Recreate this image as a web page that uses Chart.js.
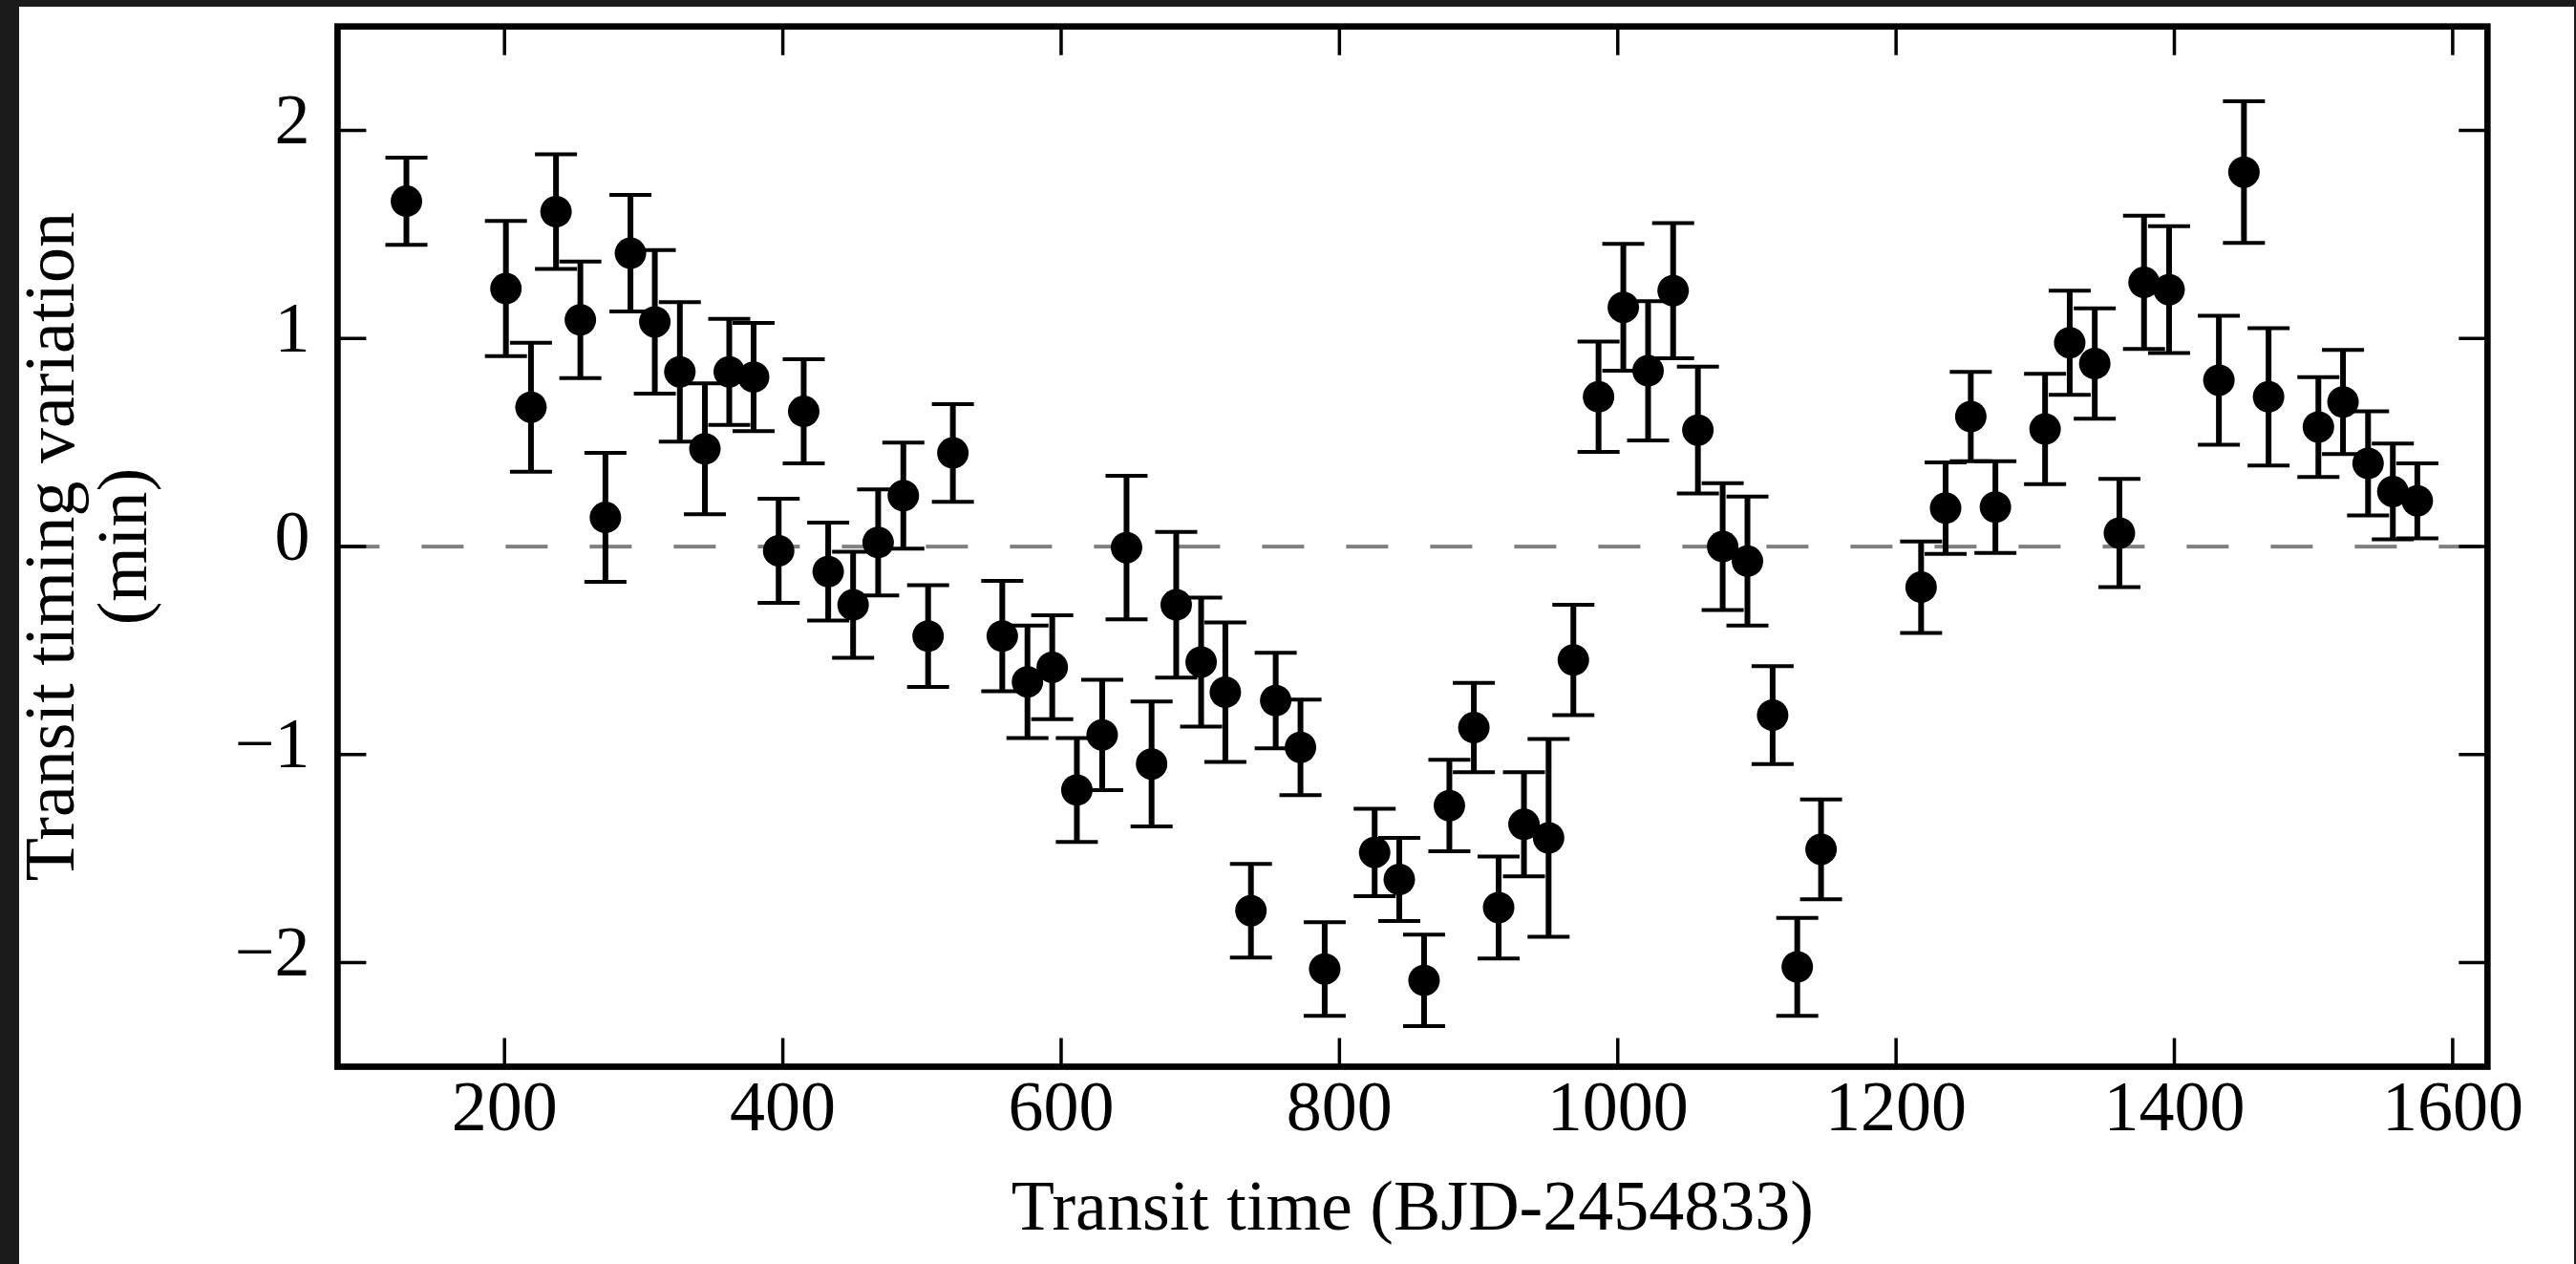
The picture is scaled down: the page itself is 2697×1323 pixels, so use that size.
<!DOCTYPE html>
<html>
<head>
<meta charset="utf-8">
<title>Transit timing variation</title>
<script src="https://cdn.jsdelivr.net/npm/chart.js@4.4.1/dist/chart.umd.min.js"></script>
<style>
  html, body { margin: 0; padding: 0; background: #1b1b1b; width: 2697px; height: 1323px; overflow: hidden; }
  #ttvChart { position: absolute; left: 20px; top: 7px; background: #ffffff; }
</style>
</head>
<body>
<canvas id="ttvChart" width="2675" height="1316"></canvas>
<script>
// Mid-transit times (BJD-2454833) and timing residuals in minutes
const transitTime = [
  129.5, 201, 219, 237, 254.5, 272.5, 290.5, 308, 326, 344,
  361.5, 379, 397, 415, 432.6, 450.5, 468.5, 486.6, 504.4, 522.2,
  557.7, 575.8, 593.6, 611.3, 629.5, 647, 665, 682.7, 700.6, 718,
  736.4, 754.2, 772, 789.4, 825.3, 843, 860.8, 879, 896.6, 914.4,
  932.6, 950.3, 968.1, 986.2, 1004, 1021.8, 1039.8, 1057.6, 1075.4, 1093.2,
  1111.3, 1129, 1146.1, 1218, 1235.6, 1253.7, 1271.4, 1307.1, 1324.8, 1342.8,
  1360.5, 1378.2, 1396.2, 1432, 1450, 1467.7, 1503.5, 1521.2, 1539.2, 1557,
  1574.6
];
const ttv = [
  1.66, 1.24, 0.67, 1.61, 1.09, 0.14, 1.41, 1.08, 0.84, 0.47,
  0.84, 0.815, -0.02, 0.65, -0.12, -0.28, 0.02, 0.245, -0.43, 0.45,
  -0.43, -0.65, -0.58, -1.17, -0.905, -0.005, -1.045, -0.28, -0.555, -0.70,
  -1.75, -0.74, -0.965, -2.03, -1.47, -1.60, -2.085, -1.245, -0.87, -1.735,
  -1.335, -1.40, -0.545, 0.72, 1.15, 0.845, 1.23, 0.56, 0.0, -0.07,
  -0.81, -2.02, -1.455, -0.195, 0.185, 0.625, 0.19, 0.565, 0.98, 0.88,
  0.065, 1.27, 1.235, 0.80, 1.80, 0.72, 0.575, 0.695, 0.40, 0.265,
  0.22
];
const ttvErr = [
  0.21, 0.325, 0.31, 0.275, 0.28, 0.31, 0.28, 0.345, 0.335, 0.315,
  0.255, 0.26, 0.25, 0.25, 0.235, 0.255, 0.255, 0.255, 0.245, 0.235,
  0.265, 0.27, 0.25, 0.25, 0.265, 0.345, 0.30, 0.35, 0.31, 0.335,
  0.225, 0.23, 0.23, 0.225, 0.21, 0.20, 0.22, 0.22, 0.215, 0.245,
  0.25, 0.475, 0.265, 0.265, 0.305, 0.335, 0.325, 0.305, 0.305, 0.31,
  0.235, 0.235, 0.24, 0.22, 0.22, 0.215, 0.22, 0.265, 0.25, 0.265,
  0.26, 0.32, 0.305, 0.31, 0.34, 0.33, 0.24, 0.25, 0.25, 0.23,
  0.18
];

const xTicks = [200, 400, 600, 800, 1000, 1200, 1400, 1600];
const xTickLabels = ['200', '400', '600', '800', '1000', '1200', '1400', '1600'];
const yTicks = [-2, -1, 0, 1, 2];
const yTickLabels = ['\u22122', '\u22121', '0', '1', '2'];

const xTitle = 'Transit time (BJD-2454833)';
const yTitle = ['Transit timing variation', '(min)'];

const SERIF = "'Liberation Serif', 'DejaVu Serif', serif";

// dashed zero line + error bars under the points, frame and inward ticks on top
const errorBarPlugin = {
  id: 'errorBars',
  beforeDatasetsDraw(chart) {
    const { ctx, chartArea: a, scales: { x, y } } = chart;
    ctx.save();
    ctx.beginPath();
    ctx.rect(a.left, a.top, a.width, a.height);
    ctx.clip();

    const y0 = y.getPixelForValue(0);
    ctx.strokeStyle = '#808080';
    ctx.lineWidth = 4;
    ctx.setLineDash([44, 44]);
    ctx.beginPath();
    ctx.moveTo(a.left, y0);
    ctx.lineTo(a.right, y0);
    ctx.stroke();
    ctx.setLineDash([]);

    ctx.strokeStyle = '#000';
    ctx.lineCap = 'butt';
    transitTime.forEach((t, i) => {
      const px = x.getPixelForValue(t);
      const hi = y.getPixelForValue(ttv[i] + ttvErr[i]);
      const lo = y.getPixelForValue(ttv[i] - ttvErr[i]);
      ctx.lineWidth = 6;
      ctx.beginPath();
      ctx.moveTo(px, hi);
      ctx.lineTo(px, lo);
      ctx.stroke();
      ctx.lineWidth = 4;
      ctx.beginPath();
      ctx.moveTo(px - 22, hi); ctx.lineTo(px + 22, hi);
      ctx.moveTo(px - 22, lo); ctx.lineTo(px + 22, lo);
      ctx.stroke();
    });
    ctx.restore();
  },
  afterDatasetsDraw(chart) {
    const { ctx, chartArea: a, scales: { x, y } } = chart;
    ctx.save();
    ctx.strokeStyle = '#000';
    ctx.lineWidth = 3.5;
    ctx.beginPath();
    xTicks.forEach(v => {
      const px = x.getPixelForValue(v);
      ctx.moveTo(px, a.bottom); ctx.lineTo(px, a.bottom - 30);
      ctx.moveTo(px, a.top); ctx.lineTo(px, a.top + 30);
    });
    yTicks.forEach(v => {
      const py = y.getPixelForValue(v);
      ctx.moveTo(a.left, py); ctx.lineTo(a.left + 30, py);
      ctx.moveTo(a.right, py); ctx.lineTo(a.right - 30, py);
    });
    ctx.stroke();

    ctx.lineWidth = 6.7;
    ctx.lineJoin = 'miter';
    ctx.strokeRect(a.left, a.top, a.width, a.height);
    ctx.restore();
  }
};

const ctx = document.getElementById('ttvChart').getContext('2d');
new Chart(ctx, {
  type: 'scatter',
  data: {
    datasets: [{
      data: transitTime.map((t, i) => ({ x: t, y: ttv[i] })),
      backgroundColor: '#000',
      borderWidth: 0,
      pointRadius: 16.5,
      pointHoverRadius: 16.5,
      pointStyle: 'circle'
    }]
  },
  options: {
    responsive: false,
    animation: false,
    devicePixelRatio: 1,
    layout: { padding: { left: 0, top: 20.7, right: 90.7, bottom: 0 } },
    plugins: { legend: { display: false }, tooltip: { enabled: false } },
    scales: {
      x: {
        type: 'linear',
        min: 80,
        max: 1625,
        grid: { display: false, drawTicks: false },
        border: { display: false },
        afterBuildTicks: axis => { axis.ticks = xTicks.map(v => ({ value: v })); },
        afterFit: axis => { axis.height = 206.5; },
        ticks: {
          color: '#000',
          font: { family: SERIF, size: 74, lineHeight: 1.2 },
          padding: 3,
          maxRotation: 0,
          autoSkip: false,
          callback: (value, index) => xTickLabels[index]
        },
        title: {
          display: true,
          text: xTitle,
          color: '#000',
          font: { family: SERIF, size: 74, lineHeight: 1.2 },
          padding: { top: 0, bottom: 11 }
        }
      },
      y: {
        type: 'linear',
        min: -2.5,
        max: 2.5,
        grid: { display: false, drawTicks: false },
        border: { display: false },
        afterBuildTicks: axis => { axis.ticks = yTicks.map(v => ({ value: v })); },
        afterFit: axis => {
          axis.width = 333.4;
          // the end labels sit well inside the plot, no extra room needed
          axis.paddingTop = 0;
          axis.paddingBottom = 0;
        },
        ticks: {
          color: '#000',
          font: { family: SERIF, size: 74, lineHeight: 1.2 },
          padding: 29,
          labelOffset: -6,
          autoSkip: false,
          callback: (value, index) => yTickLabels[index]
        },
        title: {
          display: true,
          text: yTitle,
          color: '#000',
          font: { family: SERIF, size: 74, lineHeight: 1.02 },
          padding: { top: 0, bottom: 0 }
        }
      }
    }
  },
  plugins: [errorBarPlugin]
});
</script>
</body>
</html>
